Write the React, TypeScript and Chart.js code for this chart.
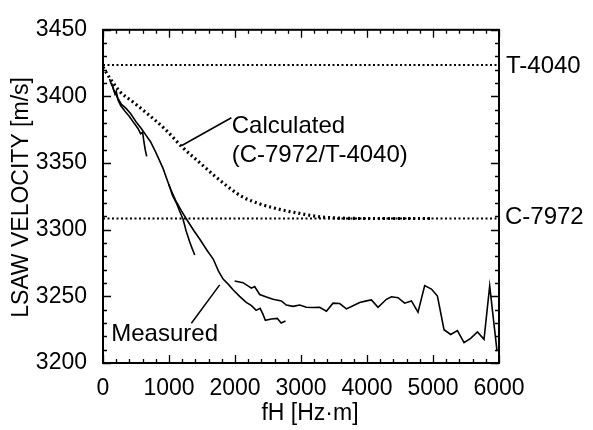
import React, { useEffect, useRef } from "react";
import { Chart, registerables } from "chart.js";
Chart.register(...registerables);

const xMin = 0, xMax = 6000, xStep = 1000, xMinor = 200;
const yMin = 3200, yMax = 3450, yStep = 50, yMinor = 10;

const t4040Level = 3423.5;
const c7972Level = 3308.4;

const calcX = [0, 100, 250, 450, 650, 950, 1200, 1450, 1700, 1900, 2100, 2400, 2700, 2950, 3300, 3600, 4000, 5000];
const calcY = [3422, 3414, 3404, 3396, 3388, 3375, 3362, 3351, 3340, 3332, 3325, 3319, 3315, 3312.5, 3309.6, 3308.7, 3308.4, 3308.4];

const measAX = [100, 120, 150, 180, 200, 230, 270, 330, 400, 470, 530, 570, 600, 620, 640, 662];
const measAY = [3413, 3410, 3407, 3402, 3404, 3397, 3393, 3389, 3385, 3380, 3376, 3372, 3373, 3366, 3360, 3355];

const measBX = [130, 160, 220, 280, 350, 420, 500, 580, 650, 720, 800, 910, 1010, 1100, 1190, 1290, 1380, 1465, 1570, 1670, 1750, 1820, 1900, 1970, 2070, 2170, 2250, 2320, 2380, 2420, 2460, 2550, 2640, 2700, 2765];
const measBY = [3410, 3405, 3399, 3394, 3391, 3387, 3381, 3376, 3371, 3366, 3358, 3346, 3332, 3322, 3314, 3306, 3299, 3293, 3285, 3278, 3269, 3263, 3259, 3255, 3250, 3245.5, 3243, 3239.5, 3241, 3237, 3232, 3233, 3233.5, 3230, 3231.5];

const measCX = [1995, 2121, 2248, 2298, 2374, 2476, 2576, 2703, 2778, 2879, 2980, 3082, 3182, 3283, 3385, 3485, 3586, 3688, 3788, 3889, 3991, 4067, 4167, 4294, 4370, 4470, 4571, 4673, 4773, 4874, 4976, 5067, 5167, 5268, 5370, 5470, 5571, 5673, 5773, 5859, 5970];
const measCY = [3261.5, 3260.3, 3256.2, 3257.4, 3251.4, 3249.5, 3247.8, 3246.6, 3243.5, 3242.5, 3243.5, 3241.8, 3241.6, 3241.8, 3238.9, 3244.9, 3244.6, 3240.6, 3243, 3245.4, 3246.6, 3247.3, 3241.8, 3247.8, 3249.7, 3249, 3244.9, 3246.6, 3238.2, 3258.1, 3255.5, 3250.2, 3225, 3221.4, 3224.3, 3215.3, 3218.5, 3223.3, 3217.8, 3257.9, 3208.9];

const measDX = [1000, 1050, 1112, 1160, 1212, 1260, 1313, 1350, 1390];
const measDY = [3334, 3326, 3320, 3314, 3308, 3299, 3291, 3286, 3281];

const labelCalc1 = "Calculated";
const labelCalc2 = "(C-7972/T-4040)";
const labelMeas = "Measured";
const labelT = "T-4040";
const labelC = "C-7972";
const xTitle = "fH [Hz·m]";
const yTitle = "LSAW VELOCITY [m/s]";

const FONT = '"Liberation Sans", Arial, Helvetica, sans-serif';

const pts = (xs: number[], ys: number[]) => xs.map((x, i) => ({ x, y: ys[i] }));

const overlay = {
  id: "overlay",
  afterDatasetsDraw(chart: any) {
    const { ctx, chartArea, scales } = chart;
    const { left, right, top, bottom } = chartArea;
    const xs = scales.x, ys = scales.y;
    ctx.save();
    ctx.strokeStyle = "#000";
    ctx.fillStyle = "#000";
    ctx.lineWidth = 2;
    ctx.strokeRect(left, top, right - left, bottom - top);
    ctx.lineWidth = 1.3;
    ctx.beginPath();
    for (let v = xMin; v <= xMax + 0.01; v += xMinor) {
      const px = Math.round(xs.getPixelForValue(v)) + 0.5;
      const len = v % xStep === 0 ? 8 : 4;
      ctx.moveTo(px, bottom); ctx.lineTo(px, bottom - len);
      ctx.moveTo(px, top); ctx.lineTo(px, top + len);
    }
    for (let v = yMin; v <= yMax + 0.01; v += yMinor) {
      const py = Math.round(ys.getPixelForValue(v)) + 0.5;
      const len = v % yStep === 0 ? 8 : 4;
      ctx.moveTo(left, py); ctx.lineTo(left + len, py);
      ctx.moveTo(right, py); ctx.lineTo(right - len, py);
    }
    ctx.stroke();

    // leader lines
    ctx.lineWidth = 1.5;
    ctx.beginPath();
    ctx.moveTo(xs.getPixelForValue(1188), ys.getPixelForValue(3363));
    ctx.lineTo(xs.getPixelForValue(1945), ys.getPixelForValue(3384));
    ctx.moveTo(xs.getPixelForValue(1339), ys.getPixelForValue(3229.8));
    ctx.lineTo(xs.getPixelForValue(1768), ys.getPixelForValue(3258.6));
    ctx.stroke();

    ctx.font = "24px " + FONT;
    ctx.textAlign = "left";
    ctx.textBaseline = "alphabetic";
    ctx.fillText(labelCalc1, xs.getPixelForValue(1950), ys.getPixelForValue(3372.7));
    ctx.fillText(labelCalc2, xs.getPixelForValue(1950), ys.getPixelForValue(3351.1));
    ctx.fillText(labelMeas, xs.getPixelForValue(125), ys.getPixelForValue(3216.6));
    ctx.textBaseline = "middle";
    ctx.fillText(labelT, right + 7, ys.getPixelForValue(t4040Level) + 1);
    ctx.fillText(labelC, right + 6, ys.getPixelForValue(c7972Level) - 1);

    // axis titles
    ctx.font = "23px " + FONT;
    ctx.textAlign = "center";
    ctx.fillText(xTitle, (left + right) / 2 + 9, 414);
    ctx.translate(22, (top + bottom) / 2 + 1);
    ctx.rotate(-Math.PI / 2);
    ctx.fillText(yTitle, 0, 0);
    ctx.restore();
  },
};

export default function App() {
  const ref = useRef<HTMLCanvasElement>(null);
  useEffect(() => {
    const solid = { borderColor: "#000", borderWidth: 1.6, pointRadius: 0, showLine: true, fill: false, tension: 0 };
    const plain = (v: any) => String(v);
    const chart = new Chart(ref.current!, {
      type: "scatter",
      data: {
        datasets: [
          { ...solid, data: pts([xMin, xMax], [t4040Level, t4040Level]), borderWidth: 2, borderDash: [2, 2.5] },
          { ...solid, data: pts([xMin, xMax], [c7972Level, c7972Level]), borderWidth: 2, borderDash: [2, 2.5] },
          { ...solid, data: pts(calcX, calcY), borderWidth: 3.2, borderDash: [2, 3], cubicInterpolationMode: "monotone" },
          { ...solid, data: pts(measAX, measAY) },
          { ...solid, data: pts(measBX, measBY) },
          { ...solid, data: pts(measCX, measCY) },
          { ...solid, data: pts(measDX, measDY) },
        ] as any,
      },
      options: {
        responsive: false,
        animation: false,
        events: [],
        layout: { padding: { left: 0, top: 16, right: 94, bottom: 0 } },
        plugins: { legend: { display: false }, tooltip: { enabled: false } },
        scales: {
          x: {
            type: "linear", min: xMin, max: xMax,
            grid: { display: false, drawTicks: false },
            border: { display: false },
            ticks: { stepSize: xStep, color: "#000", font: { size: 23, family: FONT }, padding: 12, maxRotation: 0, autoSkip: false, callback: plain },
            afterFit: (s: any) => { s.height = 67; },
          },
          y: {
            type: "linear", min: yMin, max: yMax,
            grid: { display: false, drawTicks: false },
            border: { display: false },
            ticks: { stepSize: yStep, color: "#000", font: { size: 23, family: FONT }, padding: 16, autoSkip: false, callback: plain },
            afterFit: (s: any) => { s.width = 103; },
          },
        },
      },
      plugins: [overlay],
    });
    return () => chart.destroy();
  }, []);
  return (
    <div style={{ position: "absolute", left: 0, top: 0, width: 593, height: 430, background: "#fff" }}>
      <canvas ref={ref} width={593} height={430} />
    </div>
  );
}
